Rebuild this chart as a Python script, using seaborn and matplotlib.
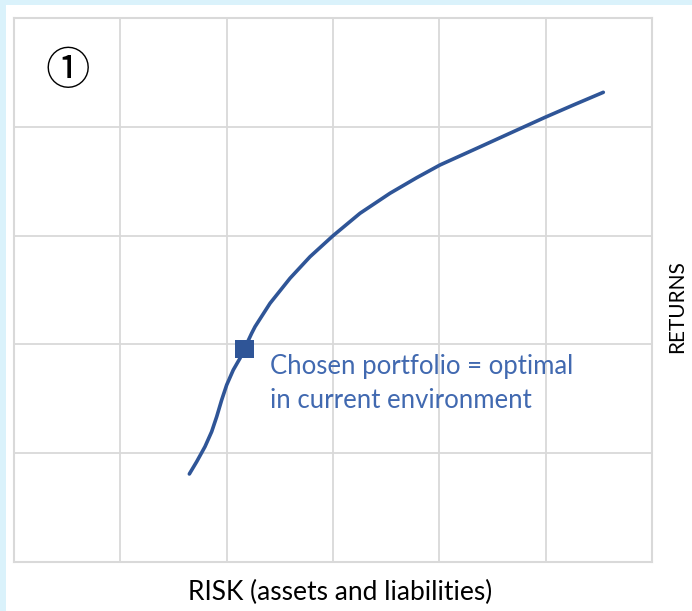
import matplotlib
matplotlib.use("Agg")
import matplotlib.pyplot as plt
import seaborn as sns
import pandas as pd
from matplotlib.patches import Rectangle

# Data
risk = [1.649, 1.718, 1.796, 1.859, 1.906, 1.953, 2.000, 2.062, 2.125, 2.166,
        2.235, 2.267, 2.408, 2.596, 2.784, 2.997, 3.254, 3.536, 3.787, 4.006,
        4.352, 4.696, 4.994, 5.260, 5.542]
returns = [0.809, 0.922, 1.060, 1.198, 1.335, 1.489, 1.627, 1.765, 1.872, 1.958,
           2.102, 2.163, 2.378, 2.608, 2.806, 2.996, 3.205, 3.389, 3.532, 3.649,
           3.802, 3.955, 4.087, 4.200, 4.317]
chosen_risk = [2.166]
chosen_return = [1.958]
x_ticks = [0, 1, 2, 3, 4, 5, 6]
y_ticks = [0, 1, 2, 3, 4, 5]
annotation_lines = ["Chosen portfolio = optimal", "in current environment"]
x_label = "RISK (assets and liabilities)"
y_label = "RETURNS"
badge = "\u2460"

sns.set_style("whitegrid")
plt.rcParams['font.family'] = ['Lato', 'DejaVu Sans']

W, H = 692, 611
fig = plt.figure(figsize=(W / 100, H / 100), dpi=100, facecolor="#DAF2FB")
fig.patches.append(Rectangle((6 / W, 0), 1, 1 - 5 / H, transform=fig.transFigure,
                             facecolor="white", edgecolor="none", zorder=-10))

ax = fig.add_axes([14 / W, (H - 562) / H, (652 - 14) / W, (562 - 18) / H])
ax.set_zorder(1)
ax.set_facecolor("white")

df = pd.DataFrame({"risk": risk, "returns": returns})
sns.lineplot(data=df, x="risk", y="returns", sort=False, ax=ax,
             color="#2F5597", linewidth=2.6, solid_capstyle="round",
             solid_joinstyle="round")
sns.scatterplot(x=chosen_risk, y=chosen_return, ax=ax, marker="s", s=175,
                color="#2F5597", edgecolor="none", zorder=5)

ax.set_xlim(x_ticks[0], x_ticks[-1])
ax.set_ylim(y_ticks[0], y_ticks[-1])
ax.set_xticks(x_ticks)
ax.set_yticks(y_ticks)
ax.set_xticklabels([])
ax.set_yticklabels([])
ax.tick_params(length=0)
ax.grid(True, color="#D9D9D9", linewidth=1.3)
for s in ax.spines.values():
    s.set_visible(True)
    s.set_color("#D9D9D9")
    s.set_linewidth(1.5)
ax.set_xlabel("")
ax.set_ylabel("")

for i, line in enumerate(annotation_lines):
    fig.text(270 / W, 1 - (374 + 34 * i) / H, line, color="#4169B0",
             fontsize=18.5, ha="left", va="baseline")

fig.text(340 / W, 1 - 600 / H, x_label, ha="center", va="baseline",
         fontsize=19, color="black")
fig.text(677 / W, 1 - 307 / H, y_label, ha="center", va="center",
         rotation=90, fontsize=15, color="black")
fig.text(67.5 / W, 1 - 71 / H, badge, ha="center", va="center", fontsize=32,
         color="black", family=['Noto Sans CJK SC', 'DejaVu Sans'])

fig.savefig("out.png", dpi=100, facecolor=fig.get_facecolor())
